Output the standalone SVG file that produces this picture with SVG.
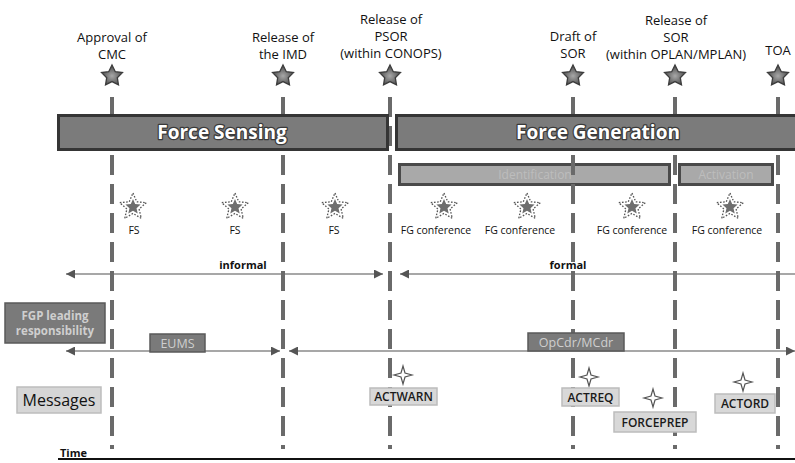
<svg xmlns="http://www.w3.org/2000/svg" width="795" height="463" viewBox="0 0 795 463">
<style>
.lbl{font-family:"Open Sans","Liberation Sans",sans-serif;font-size:13px;fill:#111;text-anchor:middle}
.small{font-family:"Open Sans","Liberation Sans",sans-serif;font-size:10.5px;fill:#111;text-anchor:middle}
.bold{font-weight:bold}
.bartxt{font-family:"Open Sans","Liberation Sans",sans-serif;font-size:19px;font-weight:bold;fill:#fff;text-anchor:middle;stroke:#3a3a3a;stroke-width:2.5;paint-order:stroke;stroke-linejoin:round}
.subtxt{font-family:"Open Sans","Liberation Sans",sans-serif;font-size:12px;fill:#bdbdbd;text-anchor:middle}
.dark{fill:#7a7a7a;stroke:#5a5a5a;stroke-width:1.5}
.lighttxt{font-family:"Open Sans","Liberation Sans",sans-serif;fill:#cfcfcf;text-anchor:middle;font-weight:bold}
.msgbox{fill:#d8d8d8;stroke:#bcbcbc;stroke-width:1.5}
.msgtxt{font-family:"Open Sans","Liberation Sans",sans-serif;font-size:12px;font-weight:600;fill:#1a1a1a;text-anchor:middle}
.vline{stroke:#6a6a6a;stroke-width:4;stroke-dasharray:20 9;fill:none}
.arr{stroke:#8a8a8a;stroke-width:1.6;fill:none}
.bigstar{fill:url(#sg);stroke:#3c3c3c;stroke-width:1.3}
.dotstar{fill:none;stroke:#555;stroke-width:1.3;stroke-dasharray:1.6 1.6}
.fillstar{fill:#6e6e6e}
.spark{fill:#fff;stroke:#555;stroke-width:1.2}
</style>
<defs>
<radialGradient id="sg" cx="0.5" cy="0.55" r="0.5">
<stop offset="0" stop-color="#a8a8a8"/>
<stop offset="1" stop-color="#4e4e4e"/>
</radialGradient>
<path id="big" d="M0,-11 L3.3,-4.3 L10.46,-3.4 L5.3,1.7 L6.47,8.9 L0,5.6 L-6.47,8.9 L-5.3,1.7 L-10.46,-3.4 L-3.3,-4.3 Z"/>
<g id="ds">
<path class="dotstar" d="M0,-14 L3.76,-5.18 L13.31,-4.33 L6.09,1.98 L8.23,11.33 L0,6.4 L-8.23,11.33 L-6.09,1.98 L-13.31,-4.33 L-3.76,-5.18 Z"/>
<path class="fillstar" d="M0,-8 L2.17,-2.99 L7.61,-2.47 L3.52,1.14 L4.7,6.47 L0,3.7 L-4.7,6.47 L-3.52,1.14 L-7.61,-2.47 L-2.17,-2.99 Z"/>
</g>
<path id="sp" class="spark" d="M0,-9 L2,-2 L9,0 L2,2 L0,9 L-2,2 L-9,0 L-2,-2 Z"/>
<marker id="ah" viewBox="0 0 10 10" refX="10" refY="5" markerWidth="10" markerHeight="9" markerUnits="userSpaceOnUse" orient="auto-start-reverse">
<path d="M0,0 L10,5 L0,10 Z" fill="#555"/>
</marker>
</defs>

<g id="connectors">
<line class="arr" x1="66" y1="274" x2="383" y2="274" marker-start="url(#ah)" marker-end="url(#ah)"/>
<line class="arr" x1="400" y1="274" x2="800" y2="274" marker-start="url(#ah)"/>
<line class="arr" x1="66" y1="351" x2="280" y2="351" marker-start="url(#ah)" marker-end="url(#ah)"/>
<line class="arr" x1="289" y1="351" x2="795" y2="351" marker-start="url(#ah)" marker-end="url(#ah)"/>
</g>

<g id="subbars">
<g id="identification">
<rect x="399.5" y="164.5" width="270" height="20" fill="#a9a9a9" stroke="#4a4a4a" stroke-width="3"/>
<text class="subtxt" x="535" y="179">Identification</text>
</g>
<g id="activation">
<rect x="679.5" y="164.5" width="93" height="20" fill="#a9a9a9" stroke="#4a4a4a" stroke-width="3"/>
<text class="subtxt" x="726" y="179">Activation</text>
</g>
</g>

<g id="timelines">
<line class="vline" x1="112" y1="97" x2="112" y2="449"/>
<line class="vline" x1="283" y1="97" x2="283" y2="449"/>
<line class="vline" x1="390" y1="97" x2="390" y2="449"/>
<line class="vline" x1="573" y1="97" x2="573" y2="449"/>
<line class="vline" x1="675" y1="97" x2="675" y2="449"/>
<line class="vline" x1="778" y1="97" x2="778" y2="449"/>
</g>

<g id="force-sensing">
<rect x="58.5" y="115.5" width="329" height="34" fill="#7b7b7b" stroke="#353535" stroke-width="3"/>
<text class="bartxt" x="222" y="139">Force Sensing</text>
</g>
<g id="force-generation">
<rect x="396.5" y="115.5" width="410" height="34" fill="#7b7b7b" stroke="#353535" stroke-width="3"/>
<text class="bartxt" x="598" y="139">Force Generation</text>
</g>

<g id="milestones">
<g id="m-cmc">
<text class="lbl" x="112" y="42">Approval of</text>
<text class="lbl" x="112" y="59">CMC</text>
<use href="#big" class="bigstar" x="112" y="76"/>
</g>
<g id="m-imd">
<text class="lbl" x="283" y="42">Release of</text>
<text class="lbl" x="283" y="59">the IMD</text>
<use href="#big" class="bigstar" x="283" y="76"/>
</g>
<g id="m-psor">
<text class="lbl" x="391" y="24">Release of</text>
<text class="lbl" x="391" y="41">PSOR</text>
<text class="lbl" x="391" y="58">(within CONOPS)</text>
<use href="#big" class="bigstar" x="390" y="76"/>
</g>
<g id="m-draft">
<text class="lbl" x="573" y="41">Draft of</text>
<text class="lbl" x="573" y="58">SOR</text>
<use href="#big" class="bigstar" x="573" y="76"/>
</g>
<g id="m-sor">
<text class="lbl" x="676" y="25">Release of</text>
<text class="lbl" x="676" y="42">SOR</text>
<text class="lbl" x="676" y="59">(within OPLAN/MPLAN)</text>
<use href="#big" class="bigstar" x="675" y="76"/>
</g>
<g id="m-toa">
<text class="lbl" x="778" y="55">TOA</text>
<use href="#big" class="bigstar" x="778" y="76"/>
</g>
</g>

<g id="conferences">
<g id="fs1"><use href="#ds" x="133" y="207"/><text class="small" x="134" y="234">FS</text></g>
<g id="fs2"><use href="#ds" x="235" y="207"/><text class="small" x="235" y="234">FS</text></g>
<g id="fs3"><use href="#ds" x="335" y="207"/><text class="small" x="334" y="234">FS</text></g>
<g id="fg1"><use href="#ds" x="444" y="207"/><text class="small" x="436" y="234">FG conference</text></g>
<g id="fg2"><use href="#ds" x="527" y="207"/><text class="small" x="520" y="234">FG conference</text></g>
<g id="fg3"><use href="#ds" x="632" y="207"/><text class="small" x="632" y="234">FG conference</text></g>
<g id="fg4"><use href="#ds" x="730" y="207"/><text class="small" x="727" y="234">FG conference</text></g>
</g>

<g id="labels">
<text class="small bold" x="243" y="269" style="font-size:11px">informal</text>
<text class="small bold" x="568" y="269" style="font-size:11px">formal</text>
</g>

<g id="fgp">
<rect class="dark" x="5" y="303" width="100" height="40"/>
<text class="lighttxt" x="55" y="320" style="font-size:11.5px">FGP leading</text>
<text class="lighttxt" x="55" y="335" style="font-size:11.5px">responsibility</text>
</g>
<g id="eums">
<rect class="dark" x="150" y="334" width="55" height="18"/>
<text class="lighttxt" x="177.5" y="348" style="font-size:12.5px;font-weight:normal">EUMS</text>
</g>
<g id="opcdr">
<rect class="dark" x="528" y="333" width="96" height="18"/>
<text class="lighttxt" x="576" y="347" style="font-size:12.5px;font-weight:normal">OpCdr/MCdr</text>
</g>

<g id="messages">
<rect x="17" y="387" width="84" height="26" fill="#d6d6d6" stroke="#bdbdbd" stroke-width="1.5"/>
<text class="lbl" x="59" y="405.5" style="font-size:16px">Messages</text>
</g>
<g id="actwarn">
<use href="#sp" x="403" y="375"/>
<rect class="msgbox" x="370" y="388" width="67" height="17"/>
<text class="msgtxt" x="403.5" y="401">ACTWARN</text>
</g>
<g id="actreq">
<use href="#sp" x="589" y="377"/>
<rect class="msgbox" x="562" y="388" width="57" height="18"/>
<text class="msgtxt" x="590.5" y="402">ACTREQ</text>
</g>
<g id="forceprep">
<use href="#sp" x="653" y="398"/>
<rect class="msgbox" x="614" y="412" width="82" height="20"/>
<text class="msgtxt" x="655" y="427">FORCEPREP</text>
</g>
<g id="actord">
<use href="#sp" x="743" y="382"/>
<rect class="msgbox" x="715" y="394" width="60" height="19"/>
<text class="msgtxt" x="745" y="408">ACTORD</text>
</g>

<g id="time">
<line x1="58" y1="459" x2="795" y2="459" stroke="#111" stroke-width="2"/>
<text x="60" y="457" style="font-family:'Open Sans','Liberation Sans',sans-serif;font-size:11px;font-weight:bold;fill:#111">Time</text>
</g>
</svg>
